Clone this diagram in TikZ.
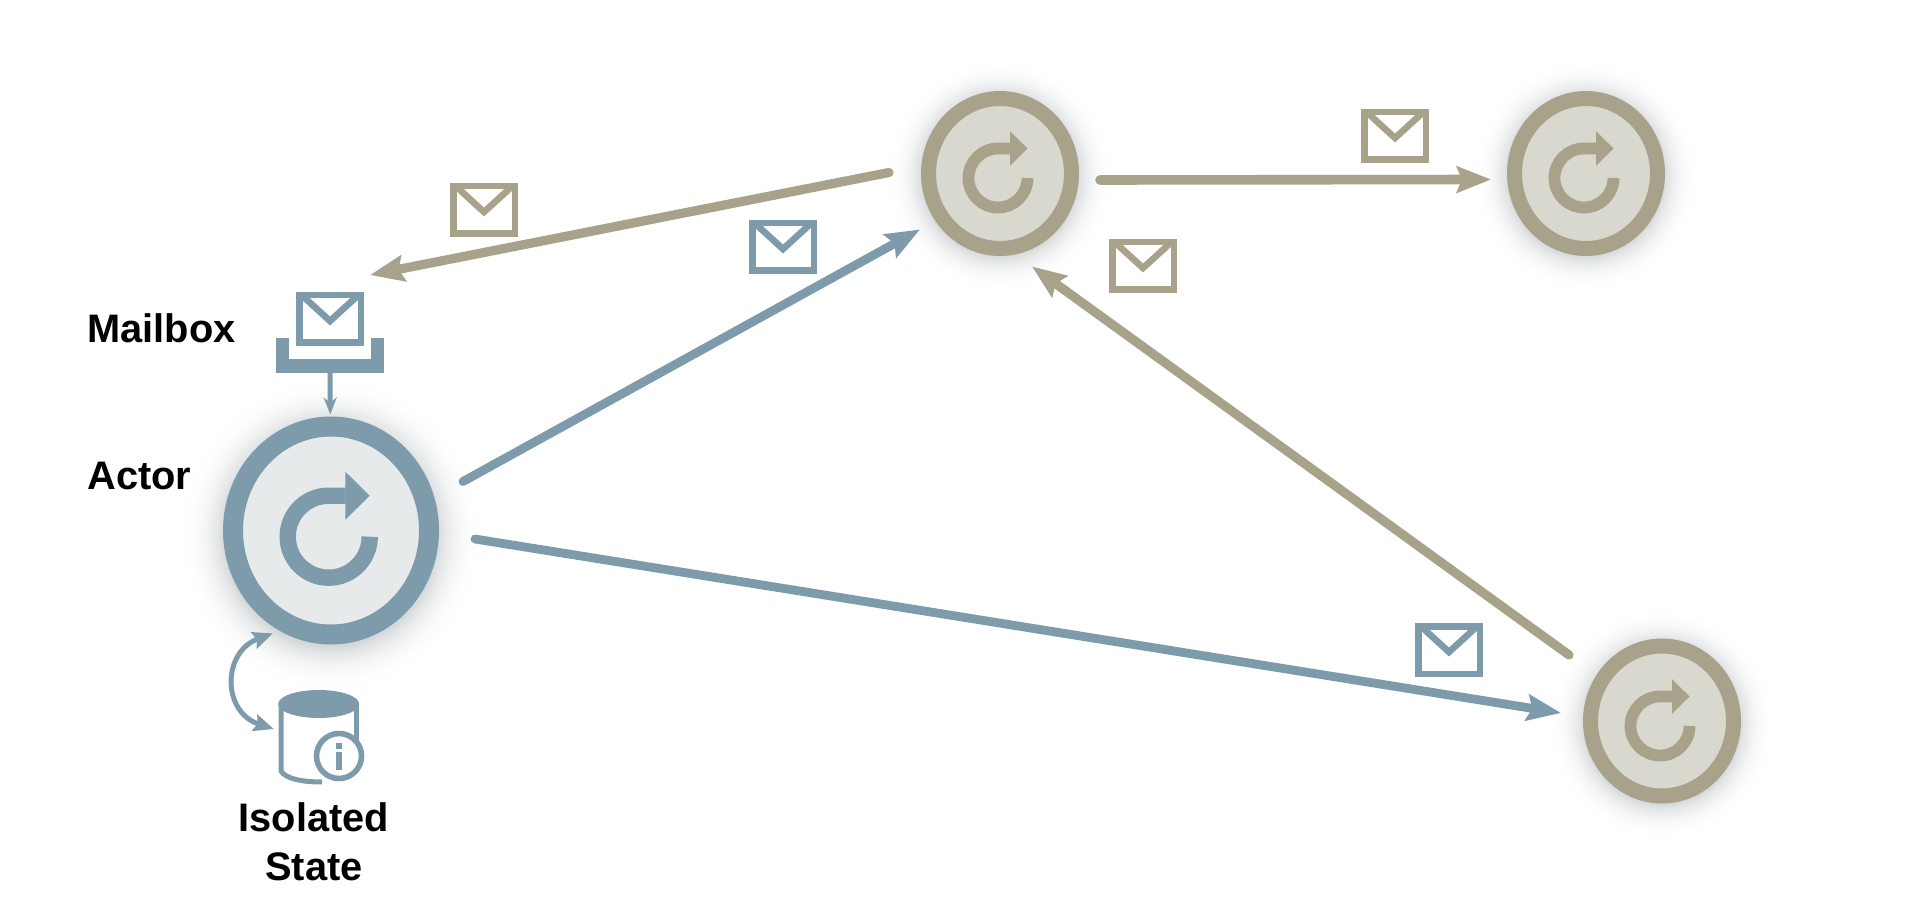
\documentclass[tikz,border=0pt]{standalone}
\usepackage{fontspec}
\setmainfont{Liberation Sans}
\usetikzlibrary{calc,arrows.meta,shapes.geometric}
\definecolor{actorblue}{HTML}{7E9BAC}
\definecolor{actorolive}{HTML}{A8A28B}
\definecolor{fillblue}{HTML}{E6EAEA}
\definecolor{fillolive}{HTML}{D8D8CE}
\definecolor{glowgrey}{HTML}{9AA3A6}
% soft glow: centre, x radius, y radius, spread
\newcommand{\glow}[4]{
  \foreach \k in {30,29,...,0} {
    \pgfmathsetmacro{\tone}{42*(1-\k/30)^2.4}
    \fill[glowgrey!\tone!white] (#1) ellipse ({#2+#4*\k/30} and {#3+#4*\k/30});
  }
}
% envelope: name, position, colour
\newcommand{\envelope}[3]{
  \node[mailrect,draw=#3] (#1) at (#2) {};
  \draw[#3,line width=3.3pt,line cap=butt] (#1.north west) ++(6.3,3.7) -- ($(#1.center)+(0,2)$) -- ($(#1.north east)+(-6.3,3.7)$);
}
% replay mark: centre, scale, colour
\newcommand{\replay}[3]{
  \begin{scope}[shift={(#1)},scale=#2]
    \draw[#3,line width=#2*8.2pt] (41,0) arc (0:270:41) -- (17,-41);
    \fill[#3] (16.7,-65) -- (41,-41) -- (16.7,-17) -- cycle;
  \end{scope}
}
\begin{document}
\begin{tikzpicture}[x=0.5pt,y=-0.5pt,>={Stealth[inset=2.5pt,length=17pt,width=13pt]},
  every node/.style={inner sep=0pt},
  label/.style={font=\fontsize{19.9}{24.7}\selectfont\bfseries},
  bigactor/.style={ellipse,draw=actorblue,fill=fillblue,line width=10pt,minimum width=98pt,minimum height=104pt},
  smallactor/.style={ellipse,draw=actorolive,fill=fillolive,line width=7.5pt,minimum width=71.5pt,minimum height=75pt},
  mailrect/.style={rectangle,fill=white,line width=3.3pt,minimum width=30.8pt,minimum height=23.8pt},
  bluearrow/.style={->,draw=actorblue,line cap=round},
  olivearrow/.style={->,draw=actorolive,line cap=round}]
  \useasboundingbox (0,0) rectangle (1920,903);
  % glow under the actors
  \glow{331,535}{106}{112}{48}
  \glow{1000,176}{77}{80}{38}
  \glow{1586,176}{77}{80}{38}
  \glow{1662,724}{77}{80}{38}
  % actors
  \node[bigactor] (actor) at (331,530.5) {};
  \node[smallactor] (top) at (1000,173.5) {};
  \node[smallactor] (right) at (1586,173.5) {};
  \node[smallactor] (bottom) at (1662,721) {};
  \replay{328.7,536.7}{1}{actorblue}
  \replay{998,178}{0.72}{actorolive}
  \replay{1584,178}{0.72}{actorolive}
  \replay{1660,726}{0.72}{actorolive}
  % mailbox
  \envelope{mailenv}{330,319}{actorblue}
  \node[fill=actorblue,minimum width=54pt,minimum height=6.8pt] (tray) at (330,366) {};
  \fill[actorblue] (tray.north west) rectangle ++(13.4,-21);
  \fill[actorblue] (tray.north east) rectangle ++(-13.4,-21);
  \draw[->,actorblue,line width=2.5pt,>={Stealth[length=8.5pt,width=6.5pt]},shorten >=1pt] (tray) -- (actor);
  % messages
  \envelope{msga}{484,210}{actorolive}
  \envelope{msgb}{783,247}{actorblue}
  \envelope{msgc}{1395,136}{actorolive}
  \envelope{msgd}{1143,266}{actorolive}
  \envelope{msge}{1449,650}{actorblue}
  \coordinate (mailtip) at (370,275);
  \draw[bluearrow,line width=4.4pt] ($(actor)+(132,-49)$) -- ($(top)+(-80,56)$);
  \draw[bluearrow,line width=4.4pt] ($(actor)+(144,8.5)$) -- ($(bottom)+(-101,-8)$);
  \draw[olivearrow,line width=4.6pt] ($(top)+(-111,-1)$) -- (mailtip);
  \draw[olivearrow,line width=4.8pt] ($(top)+(100,6.5)$) -- ($(right)+(-95,6)$);
  \draw[olivearrow,line width=4.6pt] ($(bottom)+(-93,-66)$) -- ($(top)+(32,93)$);
  % isolated state
  \node[minimum width=40.5pt,minimum height=46pt] (state) at (318.5,736) {};
  \fill[actorblue] (318.7,704) ellipse (40.5 and 14);
  \draw[actorblue,line width=2.5pt] (281,704) -- (281,771) .. controls (285,778) and (300,782) .. (322,782);
  \draw[actorblue,line width=2.5pt] (356,704) -- (356,740);
  \node[circle,draw=actorblue,fill=white,line width=2.8pt,minimum size=22.5pt] (info) at (339,756) {};
  \fill[actorblue] (336,743) rectangle (342,749);
  \fill[actorblue] (336,752) rectangle (342,770);
  \draw[<->,actorblue,line width=2.5pt,>={Stealth[inset=1.5pt,length=10pt,width=8.5pt]},shorten <=3.7pt,shorten >=2pt]
    (actor.243) .. controls (222,652) and (222,712) .. (state.172);
  % labels
  \node[label,anchor=base west] (mailboxlabel) at (87,343) {Mailbox};
  \node[label,anchor=base west] (actorlabel) at (87,489) {Actor};
  \node[label,align=center] (statelabel) at (314,842) {Isolated\\State};
\end{tikzpicture}
\end{document}
